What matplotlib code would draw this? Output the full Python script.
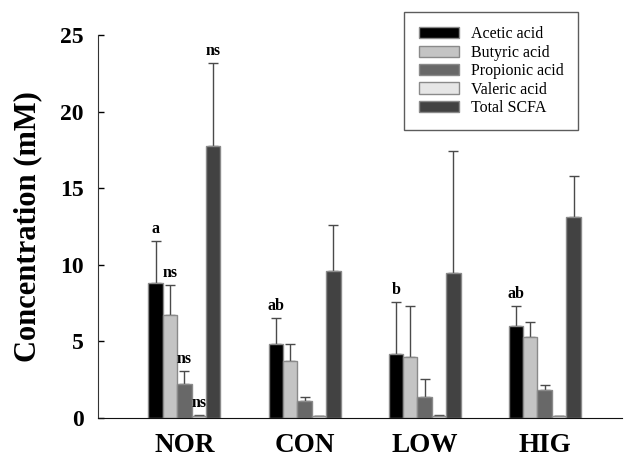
import numpy as np
import matplotlib.pyplot as plt

groups = ['NOR', 'CON', 'LOW', 'HIG']
acids = ['Acetic acid', 'Butyric acid', 'Propionic acid', 'Valeric acid', 'Total SCFA']

# mean concentrations (mM) per group, one list per acid
acetic = [8.8, 4.8, 4.15, 6.0]
butyric = [6.75, 3.7, 4.0, 5.3]
propionic = [2.25, 1.1, 1.35, 1.85]
valeric = [0.12, 0.1, 0.12, 0.1]
total = [17.75, 9.6, 9.45, 13.1]

# upper standard deviation
acetic_sd = [2.75, 1.75, 3.4, 1.3]
butyric_sd = [1.95, 1.1, 3.3, 1.0]
propionic_sd = [0.8, 0.3, 1.2, 0.3]
valeric_sd = [0.08, 0.05, 0.05, 0.05]
total_sd = [5.4, 3.0, 7.95, 2.7]

# significance letters above each bar ('' = none)
letters = [
    ['a', 'ab', 'b', 'ab'],
    ['ns', '', '', ''],
    ['ns', '', '', ''],
    ['ns', '', '', ''],
    ['ns', '', '', ''],
]

means = [acetic, butyric, propionic, valeric, total]
sds = [acetic_sd, butyric_sd, propionic_sd, valeric_sd, total_sd]
colors = ['#000000', '#c4c4c4', '#686868', '#e6e6e6', '#424242']

serif = ['Liberation Serif', 'DejaVu Serif']

fig = plt.figure(figsize=(6.27, 4.57), dpi=100)
ax = fig.add_axes([0.1563, 0.0853, 0.835, 0.838])

x = np.arange(len(groups))
w = 0.12
for i, (m, s, c) in enumerate(zip(means, sds, colors)):
    pos = x + (i - 2) * w
    ax.bar(pos, m, width=w, color=c, edgecolor='#8a8a8a', linewidth=1.0,
           label=acids[i], zorder=2)
    ax.errorbar(pos, m, yerr=[np.zeros(len(m)), s], fmt='none',
                ecolor='#4a4a4a', elinewidth=1.0, capsize=3.5, capthick=1.0,
                zorder=1)
    for j in range(len(groups)):
        if letters[i][j]:
            ax.annotate(letters[i][j], (pos[j], m[j] + s[j]),
                        xytext=(0, 3), textcoords='offset points',
                        ha='center', va='bottom', fontsize=11.5,
                        fontweight='bold', family=serif)

ax.set_xlim(-0.72, 3.64)
ax.set_ylim(0, 25)
ax.set_yticks([0, 5, 10, 15, 20, 25])
ax.set_xticks(x)
ax.set_xticklabels(groups)
ax.tick_params(axis='x', length=0, pad=11)
ax.tick_params(axis='y', direction='in', length=4, width=1, pad=10.5)
for lab in ax.get_xticklabels():
    lab.set_fontsize(19.5)
    lab.set_fontweight('bold')
    lab.set_family(serif)
for lab in ax.get_yticklabels():
    lab.set_fontsize(17)
    lab.set_fontweight('bold')
    lab.set_family(serif)

ax.set_ylabel('Concentration (mM)', fontsize=22, fontweight='bold',
              family=serif)
ax.yaxis.set_label_coords(-0.107, 0.5)

ax.spines['top'].set_visible(False)
ax.spines['right'].set_visible(False)
ax.spines['left'].set_color('#333333')
ax.spines['bottom'].set_color('#111111')

leg = ax.legend(loc='upper left', bbox_to_anchor=(0.585, 1.06),
                prop={'family': serif, 'size': 11.5},
                frameon=True, fancybox=False, shadow=False,
                handlelength=2.5, handleheight=0.7, labelspacing=0.15,
                borderpad=0.9, handletextpad=0.8, borderaxespad=0)
leg.get_frame().set_edgecolor('#333333')
leg.get_frame().set_linewidth(1.0)

fig.savefig('out.png', dpi=100)
